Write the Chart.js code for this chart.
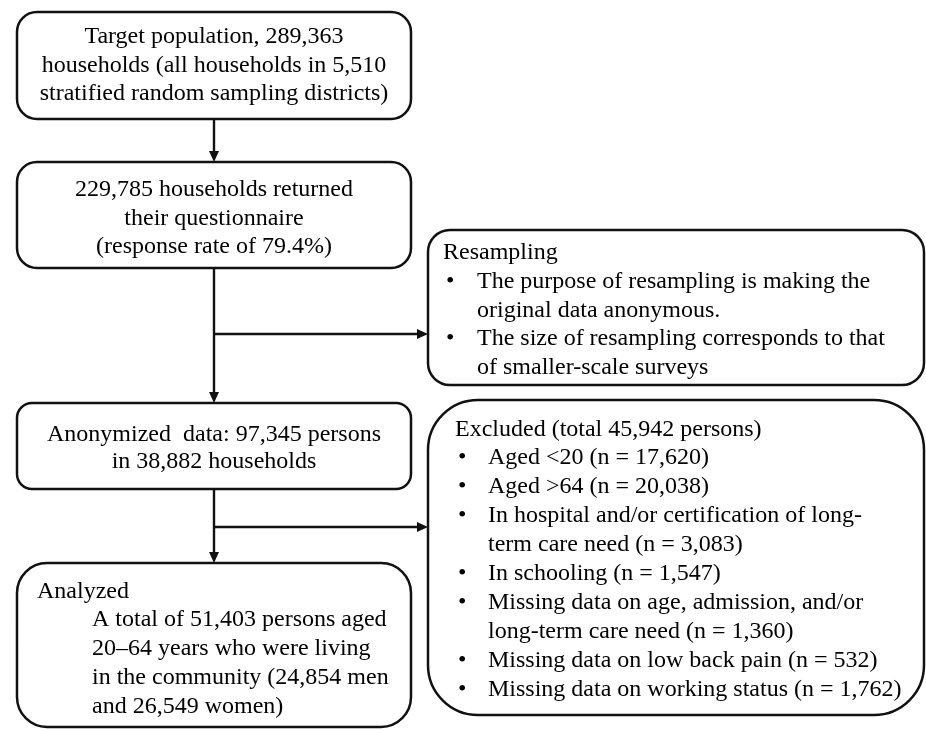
<!DOCTYPE html>
<html>
<head>
<meta charset="utf-8">
<script src="https://cdn.jsdelivr.net/npm/chart.js@4/dist/chart.umd.min.js"></script>
<style>
    html, body { margin: 0; padding: 0; background: #fff; }
</style>
</head>
<body>
<canvas id="flow" width="926" height="729"></canvas>
<script>
// Box texts
const targetLines = ['Target population, 289,363', 'households (all households in 5,510', 'stratified random sampling districts)'];
const returnedLines = ['229,785 households returned', 'their questionnaire', '(response rate of 79.4%)'];
const anonymizedLines = ['Anonymized  data: 97,345 persons', 'in 38,882 households'];
const analyzedTitle = 'Analyzed';
const analyzedLines = ['A total of 51,403 persons aged', '20\u201364 years who were living', 'in the community (24,854 men', 'and 26,549 women)'];
const resamplingTitle = 'Resampling';
const resamplingBullets = [
    ['The purpose of resampling is making the', 'original data anonymous.'],
    ['The size of resampling corresponds to that', 'of smaller-scale surveys']
];
const excludedTitle = 'Excluded (total 45,942 persons)';
const excludedBullets = [
    ['Aged <20 (n = 17,620)'],
    ['Aged >64 (n = 20,038)'],
    ['In hospital and/or certification of long-', 'term care need (n = 3,083)'],
    ['In schooling (n = 1,547)'],
    ['Missing data on age, admission, and/or', 'long-term care need (n = 1,360)'],
    ['Missing data on low back pain (n = 532)'],
    ['Missing data on working status (n = 1,762)']
];

// Layout in axis units (the axes span the whole page)
const layout = {
    target:     { x0: 17,  y0: 12,  x1: 411, y1: 119, r: 20 },
    returned:   { x0: 17,  y0: 162, x1: 411, y1: 268, r: 20 },
    resampling: { x0: 428, y0: 230, x1: 924, y1: 385, r: 22 },
    anonymized: { x0: 17,  y0: 403, x1: 411, y1: 489, r: 15 },
    excluded:   { x0: 428, y0: 400, x1: 924, y1: 715, r: 50 },
    analyzed:   { x0: 17,  y0: 563, x1: 411, y1: 727, r: 30 }
};
const connectors = [
    { from: [214, 119], to: [214, 162], arrow: true },
    { from: [214, 268], to: [214, 403], arrow: true },
    { from: [214, 334], to: [428, 334], arrow: true },
    { from: [214, 489], to: [214, 563], arrow: true },
    { from: [214, 527], to: [428, 527], arrow: true }
];
const lineGap = 28.5;

const flowPlugin = {
    id: 'flow',
    afterDraw(chart) {
        const ctx = chart.ctx;
        const sx = chart.scales.x, sy = chart.scales.y;
        const px = v => sx.getPixelForValue(v);
        const py = v => sy.getPixelForValue(v);
        ctx.save();
        ctx.strokeStyle = '#111';
        ctx.fillStyle = '#111';
        ctx.lineWidth = 2.5;

        // boxes
        Object.values(layout).forEach(b => {
            ctx.beginPath();
            ctx.roundRect(px(b.x0), py(b.y0), px(b.x1) - px(b.x0), py(b.y1) - py(b.y0), b.r);
            ctx.stroke();
        });

        // connectors
        ctx.lineWidth = 2.4;
        connectors.forEach(c => {
            let x0 = px(c.from[0]), y0 = py(c.from[1]);
            let x1 = px(c.to[0]), y1 = py(c.to[1]);
            let ang = Math.atan2(y1 - y0, x1 - x0);
            let head = 11;
            ctx.beginPath();
            ctx.moveTo(x0, y0);
            ctx.lineTo(x1 - head * Math.cos(ang), y1 - head * Math.sin(ang));
            ctx.stroke();
            if (c.arrow) {
                ctx.beginPath();
                ctx.moveTo(x1, y1);
                ctx.lineTo(x1 - head * Math.cos(ang) + 5 * Math.sin(ang), y1 - head * Math.sin(ang) - 5 * Math.cos(ang));
                ctx.lineTo(x1 - head * Math.cos(ang) - 5 * Math.sin(ang), y1 - head * Math.sin(ang) + 5 * Math.cos(ang));
                ctx.closePath();
                ctx.fill();
            }
        });

        // text
        ctx.font = '24px "Liberation Serif", "Times New Roman", serif';
        ctx.textBaseline = 'middle';
        ctx.fillStyle = '#000';

        ctx.textAlign = 'center';
        targetLines.forEach((t, i) => ctx.fillText(t, px(214), py(37 + i * lineGap)));
        returnedLines.forEach((t, i) => ctx.fillText(t, px(214), py(190 + i * lineGap)));
        anonymizedLines.forEach((t, i) => ctx.fillText(t, px(214), py(435 + i * 27)));

        ctx.textAlign = 'left';
        ctx.fillText(analyzedTitle, px(37), py(592));
        analyzedLines.forEach((t, i) => ctx.fillText(t, px(92), py(620 + i * 29)));

        ctx.fillText(resamplingTitle, px(443), py(253));
        let row = 0;
        resamplingBullets.forEach(lines => {
            ctx.fillText('\u2022', px(446), py(282 + row * lineGap));
            lines.forEach(t => {
                ctx.fillText(t, px(477), py(282 + row * lineGap));
                row++;
            });
        });

        ctx.fillText(excludedTitle, px(455), py(430));
        row = 0;
        excludedBullets.forEach(lines => {
            ctx.fillText('\u2022', px(458), py(458 + row * 29));
            lines.forEach(t => {
                ctx.fillText(t, px(488), py(458 + row * 29));
                row++;
            });
        });
        ctx.restore();
    }
};

new Chart(document.getElementById('flow'), {
    type: 'scatter',
    data: { datasets: [{ data: [], pointRadius: 0 }] },
    options: {
        responsive: false,
        animation: false,
        devicePixelRatio: 1,
        layout: { padding: 0 },
        plugins: { legend: { display: false }, tooltip: { enabled: false } },
        scales: {
            x: { type: 'linear', min: 0, max: 926, display: false },
            y: { type: 'linear', min: 0, max: 729, reverse: true, display: false }
        }
    },
    plugins: [flowPlugin]
});
</script>
</body>
</html>
